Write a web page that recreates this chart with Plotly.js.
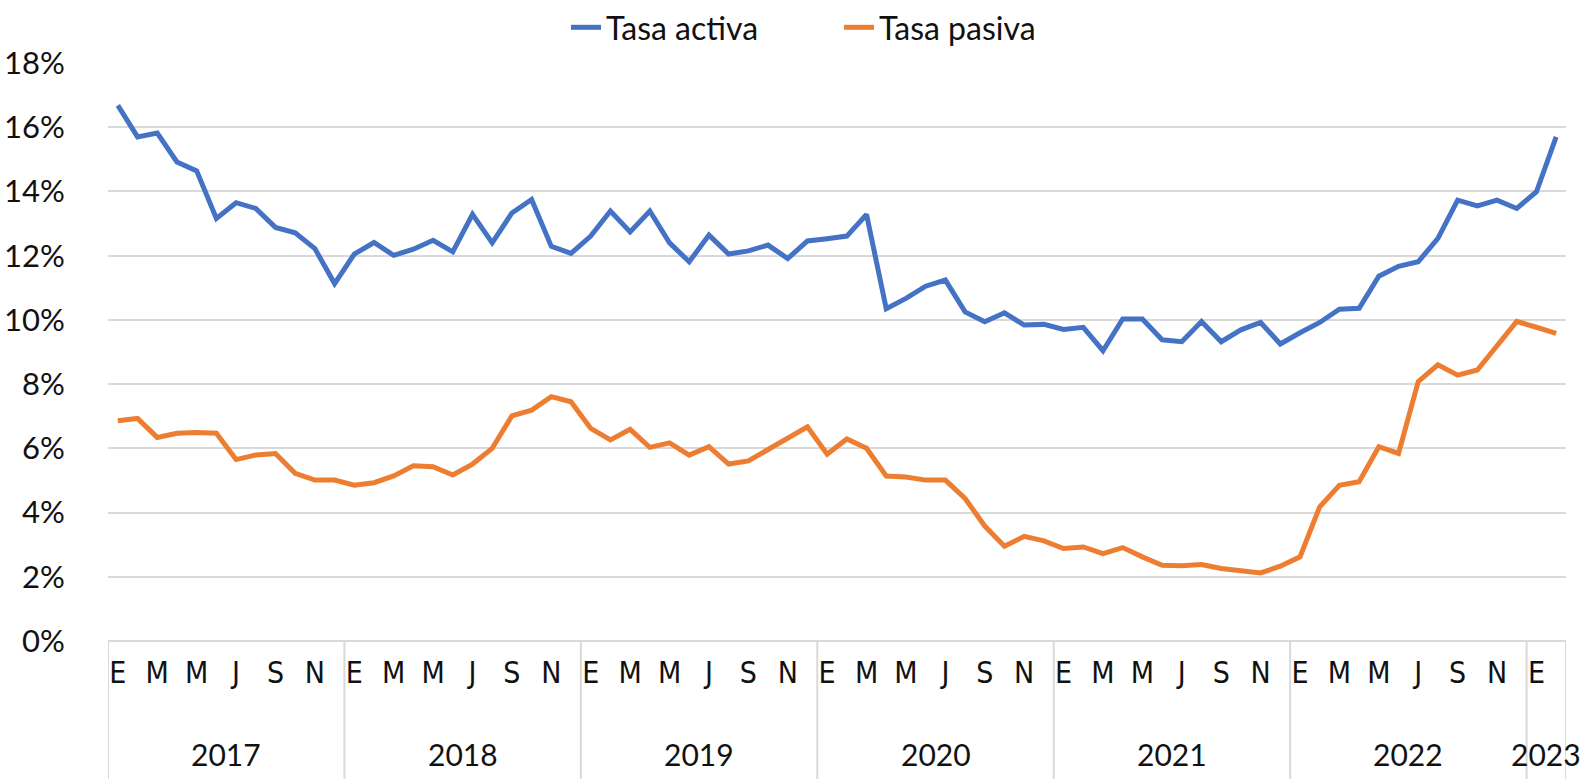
<!DOCTYPE html>
<html>
<head>
<meta charset="utf-8">
<script src="https://cdn.plot.ly/plotly-3.0.1.min.js"></script>
<style>html,body{margin:0;padding:0;background:#fff;}#chart{width:1587px;height:779px;}</style>
</head>
<body>
<div id="chart"></div>
<script>
// Years and number of months in each
const years = ['2017', '2018', '2019', '2020', '2021', '2022', '2023'];
const monthsInYear = [12, 12, 12, 12, 12, 12, 2];
// Month initials (Spanish), only odd months are labelled on the axis
const monthInitials = ['E', '', 'M', '', 'M', '', 'J', '', 'S', '', 'N', ''];

// Tasa activa (%), Jan 2017 – Feb 2023
const tasaActiva = [
  16.68, 15.70, 15.82, 14.92, 14.64, 13.16, 13.65, 13.47, 12.88, 12.71, 12.22, 11.13,
  12.05, 12.41, 12.01, 12.20, 12.48, 12.12, 13.29, 12.40, 13.33, 13.75, 12.29, 12.07,
  12.61, 13.39, 12.74, 13.39, 12.40, 11.81, 12.64, 12.05, 12.15, 12.33, 11.91, 12.46,
  12.53, 12.61, 13.28, 10.35, 10.67, 11.05, 11.24, 10.25, 9.94, 10.22, 9.84, 9.86,
  9.70, 9.77, 9.04, 10.03, 10.03, 9.38, 9.32, 9.95, 9.32, 9.69, 9.92, 9.25,
  9.60, 9.92, 10.33, 10.36, 11.36, 11.67, 11.81, 12.54, 13.73, 13.55, 13.73, 13.47,
  13.99, 15.70
];
// Tasa pasiva (%), Jan 2017 – Feb 2023
const tasaPasiva = [
  6.86, 6.93, 6.34, 6.47, 6.49, 6.47, 5.65, 5.79, 5.84, 5.22, 5.01, 5.01,
  4.85, 4.93, 5.14, 5.46, 5.43, 5.17, 5.51, 6.00, 7.01, 7.19, 7.61, 7.45,
  6.62, 6.26, 6.59, 6.03, 6.17, 5.79, 6.05, 5.51, 5.61, 5.97, 6.31, 6.67,
  5.82, 6.29, 6.00, 5.14, 5.11, 5.01, 5.01, 4.44, 3.58, 2.95, 3.26, 3.12,
  2.88, 2.93, 2.72, 2.91, 2.62, 2.36, 2.34, 2.38, 2.26, 2.18, 2.12, 2.33,
  2.62, 4.18, 4.85, 4.96, 6.05, 5.84, 8.08, 8.60, 8.28, 8.44, 9.22, 9.95,
  9.77, 9.58
];

const seriesNames = ['Tasa activa', 'Tasa pasiva'];
const yTicks = [0, 2, 4, 6, 8, 10, 12, 14, 16, 18];

// Build positional index, month tick labels, year groups
const xIdx = [];
const tickVals = [];
const tickText = [];
const yearCenters = [];
const boundaries = [-0.5];
let k = 0;
years.forEach((yr, yi) => {
  const start = k;
  for (let m = 0; m < monthsInYear[yi]; m++) {
    xIdx.push(k);
    if (monthInitials[m] !== '') { tickVals.push(k); tickText.push(monthInitials[m]); }
    k++;
  }
  yearCenters.push((start + k - 1) / 2);
  boundaries.push(k - 0.5);
});

const mainFont = 'Lato, "Open Sans", sans-serif';
const grid = '#d9d9d9';

const traces = [
  { x: xIdx, y: tasaActiva, name: seriesNames[0], type: 'scatter', mode: 'lines',
    line: { color: '#4472C4', width: 5 } },
  { x: xIdx, y: tasaPasiva, name: seriesNames[1], type: 'scatter', mode: 'lines',
    line: { color: '#ED7D31', width: 5 } }
];

const plotTop = 63, plotBottom = 641, H = 779;
const plotH = plotBottom - plotTop;

const shapes = boundaries.map(b => ({
  type: 'line', xref: 'x', yref: 'paper', x0: b, x1: b, y0: 0, y1: -(H - plotBottom) / plotH,
  line: { color: grid, width: 2 }, layer: 'below'
}));

const annotations = years.map((yr, i) => ({
  x: yearCenters[i], xref: 'x', y: -(754 - plotBottom) / plotH, yref: 'paper',
  text: yr, showarrow: false, xanchor: 'center', yanchor: 'middle',
  font: { family: mainFont, size: 30, color: '#111' }
}));

const layout = {
  width: 1587, height: 779,
  margin: { l: 108, r: 21, t: plotTop, b: H - plotBottom },
  paper_bgcolor: '#fff', plot_bgcolor: '#fff',
  showlegend: true,
  legend: { orientation: 'h', x: 566 / 1587, xanchor: 'left', xref: 'container', y: 1, yref: 'container', yanchor: 'top',
    font: { family: mainFont, size: 32, color: '#111' }, entrywidth: 228, entrywidthmode: 'pixels', tracegroupgap: 0 },
  xaxis: {
    range: [-0.5, xIdx.length - 0.5], tickmode: 'array', tickvals: tickVals, ticktext: tickText,
    showgrid: false, zeroline: false, showline: false,
    ticks: 'outside', ticklen: 5, tickcolor: 'rgba(0,0,0,0)',
    tickfont: { family: '"Liberation Sans Narrow", "DejaVu Sans Condensed", Lato, sans-serif', size: 30, color: '#111' },
    tickangle: 0, fixedrange: true
  },
  yaxis: {
    range: [0, 18], tickmode: 'array', tickvals: yTicks, ticktext: yTicks.map(v => v + '%'),
    showgrid: true, gridcolor: grid, gridwidth: 2, zeroline: true, zerolinecolor: grid, zerolinewidth: 2,
    showline: false, ticks: 'outside', ticklen: 36, tickcolor: 'rgba(0,0,0,0)',
    tickfont: { family: mainFont, size: 31, color: '#111' }, fixedrange: true
  },
  shapes: shapes,
  annotations: annotations
};

Plotly.newPlot('chart', traces, layout, { displayModeBar: false, staticPlot: true });
</script>
</body>
</html>
